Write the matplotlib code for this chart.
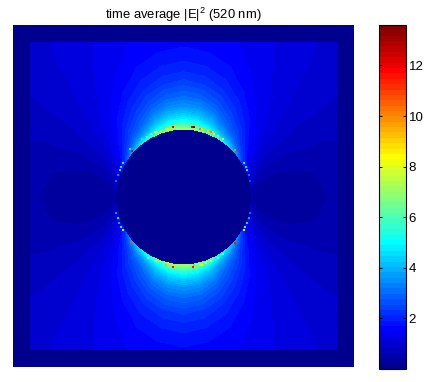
#!/usr/bin/env python3
import numpy as np
import matplotlib
matplotlib.use('Agg')
from matplotlib import pyplot as plt
from matplotlib.cm import ScalarMappable
from matplotlib.colors import ListedColormap, Normalize
from matplotlib.patches import Rectangle

plt.rcParams['font.family'] = ['Liberation Sans', 'DejaVu Sans']
plt.rcParams['mathtext.default'] = 'regular'

# field, one quadrant, sphere centre outwards
radii = [68, 70, 73, 77, 82, 90, 100, 115, 130, 150, 170, 190, 225]
# angle from the vertical, in degrees
angles = [0, 10, 20, 30, 40, 50, 60, 70, 80, 90]
field = [
    [7.2, 6.6, 5.8, 5.0, 4.4, 3.6, 3.0, 2.4, 2.0, 1.7, 1.6, 1.5, 1.5],
    [7.0, 6.4, 5.6, 4.8, 4.2, 3.5, 2.9, 2.3, 1.95, 1.65, 1.55, 1.5, 1.45],
    [6.3, 5.6, 4.9, 4.3, 3.8, 3.1, 2.6, 2.1, 1.8, 1.55, 1.45, 1.4, 1.35],
    [5.4, 4.7, 4.1, 3.5, 3.0, 2.6, 2.2, 1.8, 1.55, 1.4, 1.3, 1.25, 1.2],
    [4.5, 4.0, 3.4, 2.9, 2.5, 2.1, 1.75, 1.45, 1.3, 1.2, 1.15, 1.1, 1.05],
    [3.6, 3.0, 2.5, 2.1, 1.8, 1.5, 1.3, 1.15, 1.05, 1.0, 0.95, 0.95, 0.95],
    [2.2, 1.9, 1.6, 1.35, 1.2, 1.0, 0.9, 0.85, 0.8, 0.8, 0.8, 0.8, 0.8],
    [1.4, 1.1, 0.9, 0.75, 0.65, 0.6, 0.55, 0.55, 0.6, 0.6, 0.65, 0.7, 0.7],
    [0.8, 0.6, 0.45, 0.38, 0.35, 0.3, 0.3, 0.35, 0.4, 0.5, 0.55, 0.6, 0.6],
    [0.4, 0.38, 0.35, 0.32, 0.28, 0.25, 0.2, 0.25, 0.35, 0.45, 0.55, 0.6, 0.6],
]

# single hot cells on the rim of the sphere
rim_x = [172.7, 175, 165.7, 167.7, 160.7, 155, 157, 151.3, 146.7, 142.3, 131.7, 130,
         122.7, 121, 120, 118, 116, 192.3, 194.3, 200, 202, 205.7, 207.7, 211, 213,
         214.3, 217.7, 223, 235, 244, 245.7, 247, 248.7, 250.3, 116, 118, 119.3,
         120.7, 122.7, 130.7, 148.3, 156, 161.7, 166, 168, 173.3, 175.3, 193, 195,
         194, 200, 202, 205.7, 211, 217.7, 223, 235, 243.7, 245.3, 246.7, 249, 250.3]
rim_y = [126.7, 126.7, 128.7, 128.7, 130.7, 132.3, 132.3, 134, 136.7, 139, 150.7, 149.3,
         162.7, 167, 170, 175.3, 180.7, 126.7, 126.7, 128.7, 128.7, 130.7, 130.7, 132.3,
         132.3, 134, 136, 139, 150.3, 162.7, 166.7, 169.7, 175, 180.7, 212.7, 217.7,
         223.3, 226.7, 230.3, 242.7, 257.7, 261, 262.7, 265, 265, 267, 267, 267, 267,
         265, 265, 265, 262.7, 261, 257.7, 254, 242.7, 230.3, 226.7, 223.3, 217.7, 212.7]
rim_val = [12, 9, 8.5, 8.5, 8, 8, 8, 7, 6, 5, 12, 5,
           5, 4.5, 5, 3.5, 3, 12.5, 13.5, 10, 9, 9.5, 9, 10, 9,
           8, 9, 8, 10, 5, 4.5, 5, 3, 2.5, 3.5, 5, 4,
           5, 7, 11, 6.5, 8.5, 6, 9.5, 9, 11.5, 9, 11.5, 9,
           5, 8.5, 8, 7.5, 8.5, 6.5, 6, 11.5, 8, 5, 4.5, 4, 3]

cbar_ticks = [2, 4, 6, 8, 10, 12]
title_text = 'time average |E|$^{2}$ (520 nm)'
vmax = 13.6


def matlab_jet(n=64):
    '''The 64 step jet map, its first colour is a bit lighter than in matplotlib'''
    x = np.arange(1, n + 1) / n
    rgb = [np.clip(1.5 - np.abs(4 * x - c), 0, 1) for c in (3, 2, 1)]
    return ListedColormap(np.array(rgb).T)


cmap = matlab_jet()
norm = Normalize(0, vmax)

fig = plt.figure(figsize=(4.27, 3.82), dpi=100)
W, H = 427.0, 382.0

# axes are set up in picture pixels, so the sphere can be placed directly
ax = fig.add_axes([13 / W, 1 - 367 / H, 341 / W, 342 / H])
ax.set_xlim(13, 354)
ax.set_ylim(367, 25)
ax.set_xticks([])
ax.set_yticks([])
ax.set_facecolor(cmap(0))
for sp in ax.spines.values():
    sp.set_visible(False)

# mirror the quadrant to the full circle
quad = np.array(field)
full = np.vstack([quad, quad[-2::-1], quad[1:], quad[-2::-1]])
ang = np.array(angles, dtype=float)
ang_full = np.concatenate([ang, 180 - ang[-2::-1], 180 + ang[1:], 360 - ang[-2::-1]])
R, T = np.meshgrid(radii, np.radians(ang_full))
X = 183.5 + R * np.sin(T)
Y = 197 - R * np.cos(T)

levels = np.linspace(0, vmax, 65)
cs = ax.contourf(X, Y, full, levels=levels, cmap=cmap, norm=norm, antialiased=False)
cs.set_clip_path(Rectangle((30, 42), 307, 308, transform=ax.transData))

ax.scatter(rim_x, rim_y, c=rim_val, cmap=cmap, norm=norm, marker='s', s=2.6,
           linewidths=0, zorder=3)

ax.set_title(title_text, fontsize=9.4, pad=4)

# colorbar
cax = fig.add_axes([379.5 / W, 1 - 369 / H, 26.5 / W, 344 / H])
cb = fig.colorbar(ScalarMappable(norm=norm, cmap=cmap), cax=cax, ticks=cbar_ticks)
cb.outline.set_linewidth(0.8)
cb.ax.tick_params(direction='in', left=True, right=True, length=2.5, width=0.7,
                  labelsize=9.5, pad=2)

fig.savefig('out.png', dpi=100)
